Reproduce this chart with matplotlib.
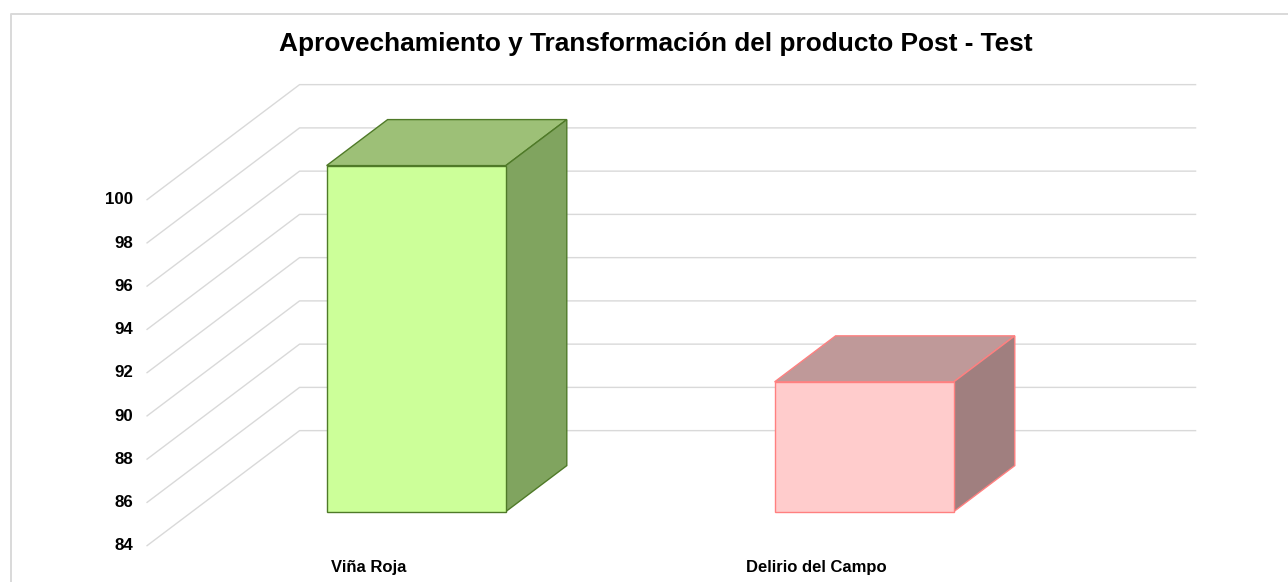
import matplotlib
matplotlib.use("Agg")
import matplotlib.pyplot as plt
from matplotlib.patches import Polygon
from matplotlib.lines import Line2D

plt.rcParams['font.family'] = ['Liberation Sans', 'DejaVu Sans']

title = "Aprovechamiento y Transformación del producto Post - Test"
categories = ["Viña Roja", "Delirio del Campo"]
values = [100, 90]
ticks = [84, 86, 88, 90, 92, 94, 96, 98, 100]

front_colors = ["#CCFF99", "#FFCCCC"]
top_colors = ["#9DC077", "#BF9999"]
side_colors = ["#80A45F", "#A07F7F"]
edge_colors = ["#4F7A28", "#FF8080"]

# pixel scale of the oblique view
W, H = 1288, 582
x_unit = 448.0    # px per category
v_unit = 21.625   # px per value unit
x0_px = 416.2     # first category
base_px = 511.6   # value 84 on the plane of the bar fronts
depth_x = 61 / x_unit
depth_v = 46 / v_unit
wall = 1.76
floor_front = -0.74
bar_w = 0.4
base = ticks[0]


def proj(x, v, d=0.0):
    return (x + d * depth_x, v + d * depth_v)


fig = plt.figure(figsize=(W / 100, H / 100), dpi=100)
ax = fig.add_axes([0, 0, 1, 1])
ax.set_xlim(-x0_px / x_unit, (W - x0_px) / x_unit)
ax.set_ylim(base - (H - base_px) / v_unit, base + base_px / v_unit)
ax.axis('off')

# chart frame, only left and top sides are inside the picture
frame_x = [10.5 / W, 10.5 / W, 1.0]
frame_y = [0.0, 1 - 13.5 / H, 1 - 13.5 / H]
fig.add_artist(Line2D(frame_x, frame_y, transform=fig.transFigure, color="#D9D9D9", lw=1.4))

# gridlines: side wall then back wall
for t in ticks:
    pts = [proj(-0.5, t, floor_front), proj(-0.5, t, wall), proj(1.5, t, wall)]
    ax.plot([p[0] for p in pts], [p[1] for p in pts], color="#D9D9D9", lw=1.0, zorder=1)
    ax.annotate(str(t), xy=pts[0], xytext=(-10, -0.2), textcoords='offset points', ha='right', va='center',
                fontsize=12.2, fontweight='bold', color="#000000", zorder=5)

# bars
for i, v in enumerate(values):
    l, r = i - bar_w / 2, i + bar_w / 2
    top = [proj(l, v), proj(r, v), proj(r, v, 1), proj(l, v, 1)]
    side = [proj(r, base), proj(r, base, 1), proj(r, v, 1), proj(r, v)]
    front = [proj(l, base), proj(r, base), proj(r, v), proj(l, v)]
    for poly, col in ((top, top_colors[i]), (side, side_colors[i]), (front, front_colors[i])):
        ax.add_patch(Polygon(poly, closed=True, fc=col, ec=edge_colors[i], lw=1.0, joinstyle='miter', zorder=3))
    ax.annotate(categories[i], xy=(i, base), xytext=(-34.5, -40.3), textcoords='offset points', ha='center', va='center',
                fontsize=12.0, fontweight='bold', color="#000000", zorder=5)

fig.text(655.5 / W, 1 - 43.5 / H, title, ha='center', va='center', fontsize=18.9, fontweight='bold', color="#000000")

fig.savefig("out.png", dpi=100)
